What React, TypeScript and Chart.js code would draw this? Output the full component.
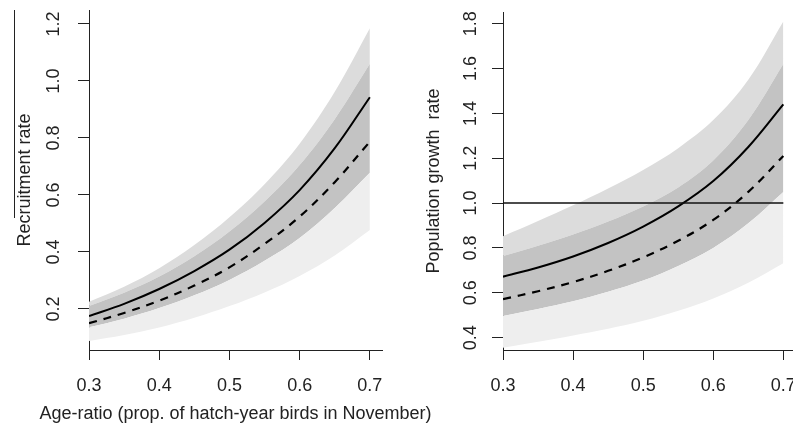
import React, { useEffect, useRef } from "react";
import { Chart, registerables } from "chart.js";

Chart.register(...registerables);

// ---- data ----
const xs = [0.3, 0.35, 0.4, 0.45, 0.5, 0.55, 0.6, 0.65, 0.7];
const xTicks = [0.3, 0.4, 0.5, 0.6, 0.7];

// Left panel: recruitment rate
const recLightUpper = [0.225, 0.278, 0.343, 0.424, 0.522, 0.638, 0.78, 0.962, 1.185];
const recDarkUpper = [0.21, 0.257, 0.314, 0.385, 0.472, 0.577, 0.705, 0.866, 1.06];
const recSolid = [0.175, 0.218, 0.27, 0.333, 0.408, 0.502, 0.617, 0.764, 0.943];
const recDashed = [0.15, 0.186, 0.229, 0.282, 0.346, 0.428, 0.524, 0.645, 0.787];
const recDarkLower = [0.136, 0.166, 0.203, 0.248, 0.302, 0.369, 0.449, 0.554, 0.678];
const recLightLower = [0.088, 0.109, 0.135, 0.169, 0.21, 0.258, 0.316, 0.388, 0.477];
const recYTicks = [0.2, 0.4, 0.6, 0.8, 1.0, 1.2];

// Right panel: population growth rate
const popLightUpper = [0.852, 0.92, 0.99, 1.065, 1.148, 1.245, 1.37, 1.55, 1.81];
const popDarkUpper = [0.764, 0.81, 0.86, 0.918, 0.985, 1.07, 1.19, 1.37, 1.62];
const popSolid = [0.672, 0.713, 0.762, 0.822, 0.895, 0.985, 1.098, 1.25, 1.44];
const popDashed = [0.572, 0.607, 0.648, 0.698, 0.758, 0.832, 0.925, 1.05, 1.21];
const popDarkLower = [0.497, 0.528, 0.562, 0.605, 0.655, 0.72, 0.8, 0.91, 1.05];
const popLightLower = [0.355, 0.382, 0.41, 0.44, 0.475, 0.52, 0.575, 0.645, 0.732];
const popYTicks = [0.4, 0.6, 0.8, 1.0, 1.2, 1.4, 1.6, 1.8];
const popRefLine = 1.0;

const xTitle = "Age-ratio (prop. of hatch-year birds in November)";
const recYTitle = "Recruitment rate";
const popYTitle = "Population growth  rate";

// ---- styles ----
const FONT = "'Liberation Sans', Arial, Helvetica, sans-serif";
const INK = "#222222";
const TOP_BAND = "#dcdcdc";
const MID_BAND = "#c3c3c3";
const LOW_BAND = "#eeeeee";
const TENSION = 0.35;

const pts = (ys: number[]) => ys.map((y, i) => ({ x: xs[i], y }));

interface PanelCfg {
  lightLower: number[];
  darkLower: number[];
  darkUpper: number[];
  lightUpper: number[];
  solid: number[];
  dashed: number[];
  refLine?: number;
  yTicks: number[];
  yMin: number;
  yMax: number;
  xMax: number;
  yTitle: string;
  xTitle?: string;
  yAxisWidth: number;
  yTitlePad: number;
  yTickPad: number;
  padding: { top: number; right: number; bottom: number; left: number };
}

const xTitlePlugin = {
  id: "xTitleWide",
  afterDraw(chart: any, _args: any, opts: any) {
    if (!opts || !opts.text) return;
    const { ctx, chartArea } = chart;
    const sx = chart.scales.x;
    ctx.save();
    ctx.font = `18px ${FONT}`;
    ctx.fillStyle = INK;
    ctx.textAlign = "center";
    ctx.textBaseline = "middle";
    ctx.fillText(opts.text, (chartArea.left + chartArea.right) / 2, sx.bottom - 18);
    ctx.restore();
  },
};

function makeConfig(p: PanelCfg): any {
  const band = (data: number[], fill: any, color: string, order = 10) => ({
    data: pts(data),
    borderWidth: 0,
    borderColor: "rgba(0,0,0,0)",
    backgroundColor: color,
    fill,
    pointRadius: 0,
    tension: TENSION,
    order,
  });
  const datasets: any[] = [
    band(p.lightLower, false, "rgba(0,0,0,0)"),
    band(p.darkLower, "-1", LOW_BAND),
    band(p.darkUpper, "-1", MID_BAND),
    band(p.lightUpper, "-1", TOP_BAND),
    {
      data: pts(p.solid),
      borderColor: "#000",
      borderWidth: 2,
      pointRadius: 0,
      fill: false,
      tension: TENSION,
      order: 1,
    },
    {
      data: pts(p.dashed),
      borderColor: "#000",
      borderWidth: 2.2,
      borderDash: [8, 7],
      pointRadius: 0,
      fill: false,
      tension: TENSION,
      order: 1,
    },
  ];
  if (p.refLine !== undefined) {
    datasets.push({
      data: [
        { x: xTicks[0], y: p.refLine },
        { x: xTicks[xTicks.length - 1], y: p.refLine },
      ],
      borderColor: "#111",
      borderWidth: 1.5,
      pointRadius: 0,
      fill: false,
      order: 0,
    });
  }
  const font = { family: FONT, size: 18 };
  return {
    type: "line",
    data: { datasets },
    plugins: [xTitlePlugin],
    options: {
      animation: false,
      responsive: false,
      maintainAspectRatio: false,
      events: [],
      layout: { padding: p.padding },
      plugins: {
        legend: { display: false },
        tooltip: { enabled: false },
        filler: { propagate: false },
        xTitleWide: { text: p.xTitle || "" },
      },
      scales: {
        x: {
          type: "linear",
          min: 0.3,
          max: p.xMax,
          border: { display: true, color: INK, width: 1 },
          grid: {
            display: true,
            drawOnChartArea: false,
            drawTicks: true,
            tickLength: 10,
            tickColor: INK,
          },
          ticks: {
            color: INK,
            font,
            padding: 15,
            maxRotation: 0,
            minRotation: 0,
            autoSkip: false,
            callback: (v: any) => Number(v).toFixed(1),
          },
          afterBuildTicks: (s: any) => {
            s.ticks = xTicks.map((v) => ({ value: v }));
          },
          afterFit: (s: any) => {
            s.height = 82;
            s.paddingLeft = 0;
            s.paddingRight = 0;
          },
          title: { display: false },
        },
        y: {
          type: "linear",
          min: p.yMin,
          max: p.yMax,
          border: { display: true, color: INK, width: 1 },
          grid: {
            display: true,
            drawOnChartArea: false,
            drawTicks: true,
            tickLength: 11,
            tickColor: INK,
          },
          ticks: {
            color: INK,
            font,
            padding: p.yTickPad,
            minRotation: 90,
            maxRotation: 90,
            crossAlign: "center",
            autoSkip: false,
            callback: (v: any) => Number(v).toFixed(1),
          },
          afterBuildTicks: (s: any) => {
            s.ticks = p.yTicks.map((v) => ({ value: v }));
          },
          afterFit: (s: any) => {
            s.width = p.yAxisWidth;
            s.paddingTop = 0;
            s.paddingBottom = 0;
          },
          title: {
            display: true,
            text: p.yTitle,
            color: INK,
            font,
            padding: { top: p.yTitlePad, bottom: 0 },
          },
        },
      },
    },
  };
}

function Panel(props: { cfg: PanelCfg; width: number; left: number }) {
  const ref = useRef<HTMLCanvasElement | null>(null);
  useEffect(() => {
    if (!ref.current) return;
    const chart = new Chart(ref.current, makeConfig(props.cfg));
    return () => chart.destroy();
  }, []);
  return (
    <canvas
      ref={ref}
      width={props.width}
      height={432}
      style={{
        position: "absolute",
        left: props.left,
        top: 0,
        width: props.width,
        height: 432,
      }}
    />
  );
}

const leftCfg: PanelCfg = {
  lightLower: recLightLower,
  darkLower: recDarkLower,
  darkUpper: recDarkUpper,
  lightUpper: recLightUpper,
  solid: recSolid,
  dashed: recDashed,
  yTicks: recYTicks,
  yMin: 0.056,
  yMax: 1.249,
  xMax: 0.7173,
  yTitle: recYTitle,
  xTitle: xTitle,
  yAxisWidth: 89,
  yTitlePad: 14,
  yTickPad: 11,
  padding: { top: 10, right: 78, bottom: 0, left: 0 },
};

const rightCfg: PanelCfg = {
  lightLower: popLightLower,
  darkLower: popDarkLower,
  darkUpper: popDarkUpper,
  lightUpper: popLightUpper,
  solid: popSolid,
  dashed: popDashed,
  refLine: popRefLine,
  yTicks: popYTicks,
  yMin: 0.345,
  yMax: 1.852,
  xMax: 0.7138,
  yTitle: popYTitle,
  yAxisWidth: 103,
  yTitlePad: 23,
  yTickPad: 8.5,
  padding: { top: 12, right: 0, bottom: 0, left: 0 },
};

export default function App() {
  return (
    <div
      style={{
        position: "absolute",
        left: 0,
        top: 0,
        width: 793,
        height: 432,
        background: "#fff",
        overflow: "hidden",
      }}
    >
      <Panel cfg={leftCfg} width={460} left={0} />
      <Panel cfg={rightCfg} width={393} left={400} />
      <div
        style={{
          position: "absolute",
          left: 14,
          top: 10,
          width: 1,
          height: 208,
          background: INK,
        }}
      />
    </div>
  );
}
